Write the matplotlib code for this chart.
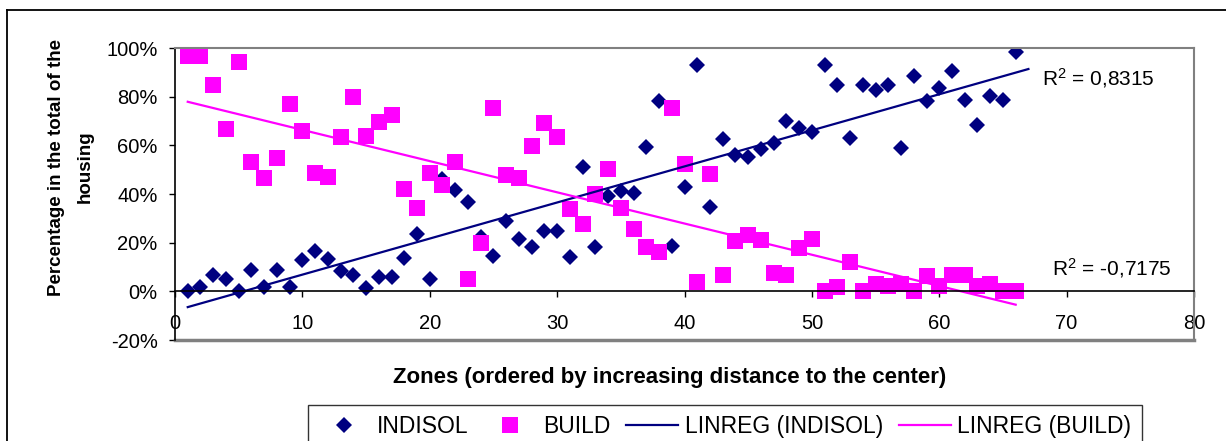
import numpy as np
import matplotlib
matplotlib.use("Agg")
import matplotlib.pyplot as plt
from matplotlib.ticker import PercentFormatter, MultipleLocator
from matplotlib.lines import Line2D

plt.rcParams['font.family'] = ['Liberation Sans', 'DejaVu Sans']
plt.rcParams['mathtext.fontset'] = 'custom'
plt.rcParams['mathtext.rm'] = 'Liberation Sans'
plt.rcParams['mathtext.it'] = 'Liberation Sans'
plt.rcParams['axes.unicode_minus'] = False

# zones ordered by distance to the center
zones = [1, 2, 3, 4, 5, 6, 7, 8, 9, 10, 11, 12, 13, 14, 15, 16, 17, 18, 19, 20,
         21, 22, 23, 24, 25, 26, 27, 28, 29, 30, 31, 32, 33, 34, 35, 36, 37, 38, 39, 40,
         41, 42, 43, 44, 45, 46, 47, 48, 49, 50, 51, 52, 53, 54, 55, 56, 57, 58, 59, 60,
         61, 62, 63, 64, 65, 66]

# percent of housing
indisol = [0, 1.6, 6.6, 5.1, 0, 8.6, 1.6, 8.6, 1.6, 13.0,
           16.4, 13.3, 8.2, 6.6, 1.4, 6.0, 6.0, 13.9, 23.4, 5.1,
           46.1, 41.6, 36.6, 22.5, 14.6, 28.7, 21.6, 18.2, 25.0, 25.0,
           14.3, 51.2, 18.2, 39.3, 41.4, 40.3, 59.4, 78.4, 18.6, 43.0,
           93.2, 34.6, 62.5, 56.0, 55.3, 58.4, 60.8, 70.1, 67.0, 65.6,
           93.2, 85.0, 63.1, 85.0, 82.7, 85.0, 59.0, 88.4, 78.2, 83.4,
           90.5, 78.6, 68.3, 80.3, 78.6, 98.4]

build = [96.6, 96.6, 85.0, 66.7, 94.3, 53.3, 46.5, 54.7, 76.8, 65.9,
         48.8, 47.0, 63.5, 79.9, 63.8, 69.7, 72.4, 42.1, 34.4, 48.5,
         43.7, 53.3, 5.1, 19.8, 75.2, 47.8, 46.7, 59.7, 69.3, 63.3,
         33.8, 27.6, 39.9, 50.2, 34.2, 25.6, 18.4, 16.0, 75.2, 52.2,
         3.9, 48.1, 6.8, 20.8, 23.2, 20.9, 7.5, 6.6, 17.8, 21.6,
         0, 1.6, 11.9, 0, 3.0, 2.3, 3.0, 0, 6.4, 2.0,
         6.8, 6.8, 2.0, 3.0, 0, 0]

r2_labels = ["R$^2$ = 0,8315", "R$^2$ = -0,7175"]

NAVY = '#000080'
MAG = '#FF00FF'

fig = plt.figure(figsize=(12.26, 4.41), dpi=100)
ax = fig.add_axes([175/1226, 1 - 340/441, (1194 - 175)/1226, (340 - 48)/441])

ax.plot(zones, indisol, linestyle='none', marker='D', markersize=8.5,
        color=NAVY, markeredgewidth=0, label='INDISOL')
ax.plot(zones, build, linestyle='none', marker='s', markersize=11.3,
        color=MAG, markeredgewidth=0, label='BUILD')

# linear trend lines
x = np.array(zones, dtype=float)
p1 = np.polyfit(x, indisol, 1)
p2 = np.polyfit(x, build, 1)
xa = np.array([x[0], x[-1] + 1])
xb = np.array([x[0], x[-1]])
ax.plot(xa, np.polyval(p1, xa), color=NAVY, lw=1.6, label='LINREG (INDISOL)')
ax.plot(xb, np.polyval(p2, xb), color=MAG, lw=1.6, label='LINREG (BUILD)')

ax.set_xlim(0, 80)
ax.set_ylim(-20, 100)
ax.xaxis.set_major_locator(MultipleLocator(10))
ax.yaxis.set_major_locator(MultipleLocator(20))
ax.yaxis.set_major_formatter(PercentFormatter(100, decimals=0))

for s in ['top', 'right']:
    ax.spines[s].set_color('#808080')
    ax.spines[s].set_linewidth(1.5)
ax.spines['left'].set_color('black')
ax.spines['left'].set_linewidth(1.2)
ax.spines['bottom'].set_position(('data', 0))
ax.spines['bottom'].set_color('black')
ax.spines['bottom'].set_linewidth(1.2)
ax.axhline(-20, color='#808080', lw=2.5, clip_on=False)

ax.tick_params(axis='y', direction='out', length=4.5, width=1, pad=8, labelsize=14.5)
ax.tick_params(axis='x', direction='out', length=4, width=1, pad=12, labelsize=14.5)

fig.text(1042/1226, 1 - 78/441, r2_labels[0], fontsize=15, va='center', ha='left')
fig.text(1052/1226, 1 - 268/441, r2_labels[1], fontsize=15, va='center', ha='left')

fig.text(670/1226, 1 - 378/441, 'Zones (ordered by increasing distance to the center)',
         fontsize=16, fontweight='bold', ha='center', va='center')
fig.text(71/1226, 1 - 167/441, 'Percentage in the total of the\nhousing',
         fontsize=13.5, fontweight='bold', ha='center', va='center',
         rotation=90, linespacing=1.85, multialignment='center')

# outer chart frame (top and left edges visible)
fig.add_artist(Line2D([7/1226, 1], [1 - 10/441, 1 - 10/441], color='black', lw=1.3,
                      transform=fig.transFigure))
fig.add_artist(Line2D([7/1226, 7/1226], [0, 1 - 10/441], color='black', lw=1.3,
                      transform=fig.transFigure))

handles, labels = ax.get_legend_handles_labels()
leg = fig.legend(handles, labels, loc='upper left', ncol=4,
                 bbox_to_anchor=(308/1226, 1 - 405/441), fontsize=16.5,
                 frameon=True, fancybox=False, edgecolor='black', borderpad=0.45,
                 handlelength=2.25, handletextpad=0.3, columnspacing=0.7,
                 borderaxespad=0)
leg.get_frame().set_linewidth(1.0)

fig.savefig('out.png', dpi=100)
